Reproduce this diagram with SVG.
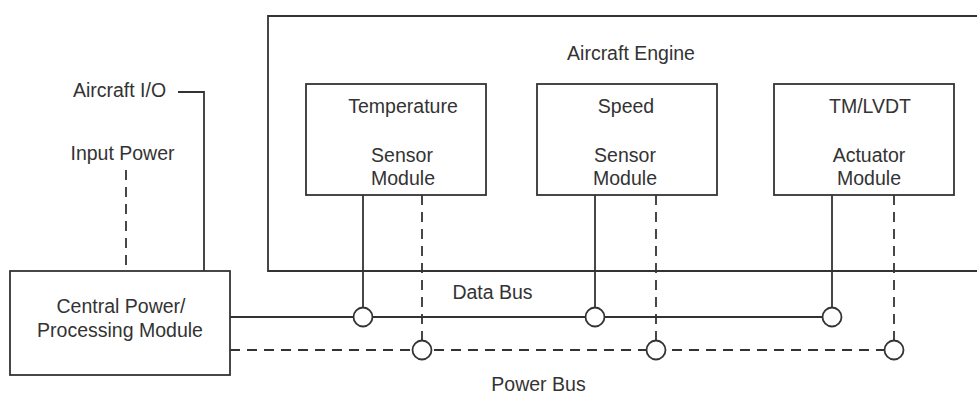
<svg xmlns="http://www.w3.org/2000/svg" width="977" height="394" viewBox="0 0 977 394">
<style>
text{font-family:"Liberation Sans",Arial,sans-serif;font-size:19.5px;fill:#333;text-anchor:middle}
.box{fill:#fff;stroke:#333;stroke-width:1.8}
.ln{fill:none;stroke:#333;stroke-width:1.8}
.ds{fill:none;stroke:#333;stroke-width:1.8;stroke-dasharray:10,7}
.tap{fill:#fff;stroke:#333;stroke-width:1.8}
</style>
<rect width="977" height="394" fill="#fff"/>
<g id="engine">
<path class="ln" d="M977,16 H268 V271 H977"/>
<text x="631" y="60">Aircraft Engine</text>
</g>
<g id="temp">
<rect class="box" x="306" y="84" width="180" height="111"/>
<text x="403" y="113">Temperature</text>
<text x="402" y="162">Sensor</text>
<text x="403" y="185">Module</text>
</g>
<g id="speed">
<rect class="box" x="537" y="84" width="180" height="111"/>
<text x="626" y="113">Speed</text>
<text x="625" y="162">Sensor</text>
<text x="625" y="185">Module</text>
</g>
<g id="tmlvdt">
<rect class="box" x="774" y="84" width="180" height="111"/>
<text x="870" y="113">TM/LVDT</text>
<text x="869" y="162">Actuator</text>
<text x="869" y="185">Module</text>
</g>
<g id="central">
<rect class="box" x="10" y="271" width="220" height="104"/>
<text x="121" y="313">Central Power/</text>
<text x="120" y="337">Processing Module</text>
</g>
<g id="labels">
<text x="119.5" y="97">Aircraft I/O</text>
<text x="122.5" y="160">Input Power</text>
<text x="492.5" y="299">Data Bus</text>
<text x="538.5" y="391">Power Bus</text>
</g>
<g id="connectors">
<path class="ln" d="M178,92 H204 V271"/>
<path class="ds" d="M126,170 V271"/>
<path class="ln" d="M230,317 H822"/>
<path class="ds" d="M230,350 H884"/>
<path class="ln" d="M363,195 V307"/>
<path class="ln" d="M595,195 V307"/>
<path class="ln" d="M832,195 V307"/>
<path class="ds" d="M422,195 V340"/>
<path class="ds" d="M656,195 V340"/>
<path class="ds" d="M894,195 V340"/>
<circle class="tap" cx="363" cy="317" r="9.5"/>
<circle class="tap" cx="595" cy="317" r="9.5"/>
<circle class="tap" cx="832" cy="317" r="9.5"/>
<circle class="tap" cx="422" cy="350" r="9.5"/>
<circle class="tap" cx="656" cy="350" r="9.5"/>
<circle class="tap" cx="894" cy="350" r="9.5"/>
</g>
</svg>
